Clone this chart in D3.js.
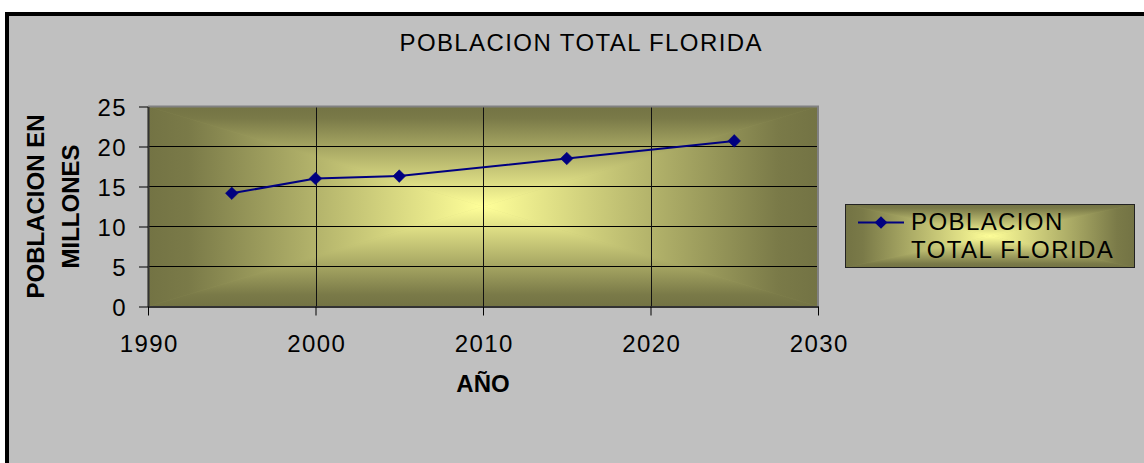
<!DOCTYPE html>
<html><head><meta charset="utf-8">
<script src="https://cdn.jsdelivr.net/npm/d3@7"></script>
<style>html,body{margin:0;padding:0;background:#fff;overflow:hidden}</style>
</head><body><svg id="c" width="1144" height="463"></svg>
<script>
// ---- data ----
const years = [1995, 2000, 2005, 2015, 2025];
const population = [14.15, 16.0, 16.3, 18.5, 20.7];
const xTicks = [1990, 2000, 2010, 2020, 2030];
const yTicks = [0, 5, 10, 15, 20, 25];
const chartTitle = "POBLACION TOTAL FLORIDA";
const legendLines = ["POBLACION", "TOTAL FLORIDA"];
const xTitle = "AÑO";
const yTitleLines = ["POBLACION EN", "MILLONES"];

// ---- layout ----
const plot = {x0: 148, x1: 818, y0: 106.5, y1: 306.5};
const FONT = "'Liberation Sans', Arial, sans-serif";
const FS = 24, LS = 1.4;
const edgeCol = "#737344", centerCol = "#ffff99";
const lineCol = "#000080";

const svg = d3.select("#c");
const defs = svg.append("defs");

// outer chart area
svg.append("rect").attr("x", 7).attr("y", 14).attr("width", 1200).attr("height", 500)
  .attr("fill", "#c0c0c0").attr("stroke", "#000").attr("stroke-width", 4);

// rectangular "from center" gradient fill
let gid = 0;
function centerGradientRect(x0, y0, x1, y1) {
  const g = svg.append("g");
  const cx = (x0 + x1) / 2, cy = (y0 + y1) / 2;
  g.append("rect").attr("x", x0).attr("y", y0).attr("width", x1 - x0).attr("height", y1 - y0)
    .attr("fill", "#a8a866");
  const parts = [
    {pts: [[x0, y0], [x1, y0], [cx, cy]], g: [cx, y0, cx, cy]},
    {pts: [[x0, y1], [x1, y1], [cx, cy]], g: [cx, y1, cx, cy]},
    {pts: [[x0, y0], [x0, y1], [cx, cy]], g: [x0, cy, cx, cy]},
    {pts: [[x1, y0], [x1, y1], [cx, cy]], g: [x1, cy, cx, cy]}
  ];
  parts.forEach(p => {
    const id = "grad" + (gid++);
    const lg = defs.append("linearGradient").attr("id", id).attr("gradientUnits", "userSpaceOnUse")
      .attr("x1", p.g[0]).attr("y1", p.g[1]).attr("x2", p.g[2]).attr("y2", p.g[3]);
    lg.append("stop").attr("offset", 0).attr("stop-color", edgeCol);
    lg.append("stop").attr("offset", 0.12).attr("stop-color", "#7a7a48");
    lg.append("stop").attr("offset", 1).attr("stop-color", centerCol);
    g.append("polygon").attr("points", p.pts.map(d => d.join(",")).join(" "))
      .attr("fill", `url(#${id})`).attr("stroke", `url(#${id})`).attr("stroke-width", 0.6);
  });
  return g;
}

centerGradientRect(plot.x0, plot.y0, plot.x1, plot.y1);

// scales
const x = d3.scaleLinear().domain([1990, 2030]).range([plot.x0, plot.x1]);
const y = d3.scaleLinear().domain([0, 25]).range([plot.y1, plot.y0]);

// gridlines
svg.append("g").selectAll("line").data(yTicks.filter(d => d > 0 && d < 25)).join("line")
  .attr("x1", plot.x0).attr("x2", plot.x1).attr("y1", d => y(d)).attr("y2", d => y(d))
  .attr("stroke", "#000").attr("stroke-width", 1);
svg.append("g").selectAll("line").data(xTicks.filter(d => d > 1990 && d < 2030)).join("line")
  .attr("x1", d => Math.round(x(d)) + 0.5).attr("x2", d => Math.round(x(d)) + 0.5)
  .attr("y1", plot.y0).attr("y2", plot.y1)
  .attr("stroke", "#111").attr("stroke-width", 1);

// plot border top/right
svg.append("path").attr("d", `M${plot.x0},${plot.y0}H${plot.x1}V${plot.y1}`)
  .attr("fill", "none").attr("stroke", "#808080").attr("stroke-width", 2);

// axes
const yAxis = svg.append("g").attr("transform", `translate(${plot.x0},0)`)
  .call(d3.axisLeft(y).tickValues(yTicks).tickSize(9).tickSizeOuter(0).tickPadding(12));
const xAxis = svg.append("g").attr("transform", `translate(0,${plot.y1})`)
  .call(d3.axisBottom(x).tickValues(xTicks).tickSize(9).tickSizeOuter(0).tickPadding(19).tickFormat(d3.format("d")));
[yAxis, xAxis].forEach(a => {
  a.select(".domain").attr("stroke", "#333").attr("stroke-width", 2);
  a.selectAll(".tick line").attr("stroke", "#000");
  a.selectAll("text").attr("font-family", FONT).attr("font-size", FS)
    .attr("letter-spacing", LS).attr("fill", "#000");
});
yAxis.selectAll("text").attr("dy", "0.38em");
xAxis.selectAll("text").attr("dx", LS / 2);

// series line + markers
const pts = years.map((yr, i) => [x(yr), y(population[i])]);
svg.append("path").attr("d", d3.line()(pts)).attr("fill", "none")
  .attr("stroke", lineCol).attr("stroke-width", 2);
const diamond = d3.symbol(d3.symbolSquare, 80);
svg.append("g").selectAll("path").data(pts).join("path")
  .attr("d", diamond).attr("transform", d => `translate(${d[0]},${d[1]}) rotate(45)`)
  .attr("fill", lineCol).attr("stroke", lineCol).attr("stroke-width", 0.5);

// title
svg.append("text").attr("x", 580.5 + LS / 2).attr("y", 51).attr("text-anchor", "middle")
  .attr("font-family", FONT).attr("font-size", FS).attr("letter-spacing", LS)
  .text(chartTitle);

// x title
svg.append("text").attr("x", 483).attr("y", 391.5).attr("text-anchor", "middle")
  .attr("font-family", FONT).attr("font-size", 24).attr("font-weight", "bold")
  .text(xTitle);

// y title
[43.5, 78.5].forEach((bx, i) => {
  svg.append("text").attr("transform", `translate(${bx},206.5) rotate(-90)`)
    .attr("text-anchor", "middle").attr("font-family", FONT).attr("font-size", 24)
    .attr("font-weight", "bold").text(yTitleLines[i]);
});

// legend
const lg = {x0: 845.5, y0: 204.5, x1: 1134.5, y1: 267.5};
centerGradientRect(lg.x0, lg.y0, lg.x1, lg.y1);
svg.append("rect").attr("x", lg.x0).attr("y", lg.y0).attr("width", lg.x1 - lg.x0).attr("height", lg.y1 - lg.y0)
  .attr("fill", "none").attr("stroke", "#222").attr("stroke-width", 1);
svg.append("line").attr("x1", 858).attr("x2", 904).attr("y1", 222.5).attr("y2", 222.5)
  .attr("stroke", lineCol).attr("stroke-width", 2);
svg.append("path").attr("d", diamond).attr("transform", "translate(881,222.5) rotate(45)")
  .attr("fill", lineCol);
legendLines.forEach((t, i) => {
  svg.append("text").attr("x", 911).attr("y", 230 + i * 27.5)
    .attr("font-family", FONT).attr("font-size", FS).attr("letter-spacing", LS).text(t);
});
</script></body></html>
